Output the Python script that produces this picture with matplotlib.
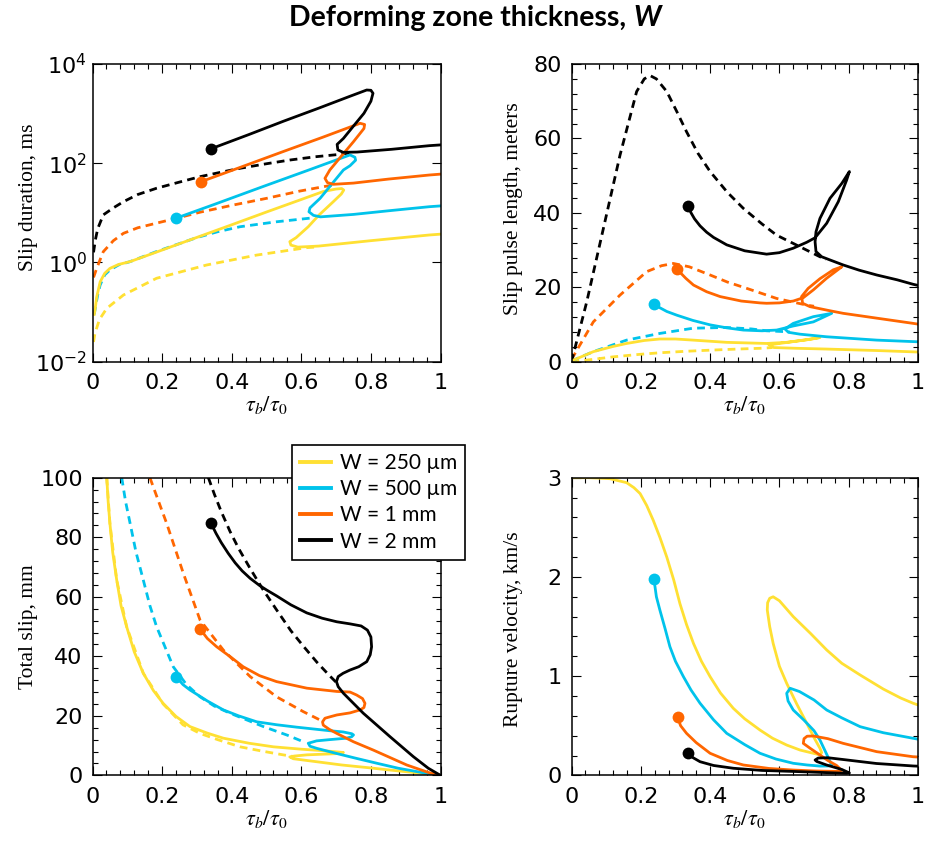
import matplotlib
matplotlib.use("Agg")
import matplotlib.pyplot as plt
from matplotlib.ticker import MultipleLocator, FuncFormatter, NullLocator, FixedLocator

# 顏色 (四種 W)
C_250 = "#FFE033"
C_500 = "#00C3EB"
C_1MM = "#FF6600"
C_2MM = "#000000"

W_LABELS = ["W = 250 \u00b5m", "W = 500 \u00b5m", "W = 1 mm", "W = 2 mm"]

# ---------------- Slip duration (ms), log y ----------------
dur_2mm_x = [0.340, 0.45, 0.55, 0.65, 0.74, 0.788, 0.800, 0.806, 0.800, 0.780, 0.750, 0.721, 0.703,
             0.705, 0.720, 0.760, 0.860, 0.968, 1.0]
dur_2mm_y = [195, 380, 708, 1288, 2239, 2992, 2951, 2570, 1778, 1014, 562, 316, 240,
             186, 166, 168, 191, 226, 234]
dur_2mm_ref_x = [0.003, 0.008, 0.015, 0.031, 0.06, 0.089, 0.13, 0.184, 0.25, 0.309, 0.37, 0.424,
                 0.50, 0.567, 0.64, 0.711, 0.74]
dur_2mm_ref_y = [1.6, 2.8, 4.8, 9.1, 12.6, 16.8, 23.4, 31.3, 41.7, 53.6, 66.1, 79.1,
                 97.7, 116, 135, 151, 162]

dur_1mm_x = [0.312, 0.42, 0.55, 0.66, 0.769, 0.782, 0.780, 0.750, 0.710, 0.682, 0.668, 0.675,
             0.692, 0.750, 0.850, 0.968, 1.0]
dur_1mm_y = [42.5, 80.4, 174, 331, 638, 603, 501, 272, 126, 73.1, 49.7, 40.7,
             37.6, 39.8, 47.9, 57.9, 60.3]
dur_1mm_ref_x = [0.003, 0.012, 0.031, 0.06, 0.089, 0.13, 0.184, 0.242, 0.309, 0.405, 0.50, 0.596,
                 0.663, 0.69]
dur_1mm_ref_y = [0.50, 0.76, 1.65, 2.75, 3.87, 5.0, 6.2, 7.8, 10.3, 14.4, 19.6, 27.5, 33.6, 36.3]

dur_500_x = [0.240, 0.35, 0.49, 0.62, 0.74, 0.754, 0.756, 0.740, 0.721, 0.690, 0.654, 0.625,
             0.622, 0.635, 0.655, 0.750, 0.850, 0.968, 1.0]
dur_500_y = [7.8, 14.8, 33.9, 72.4, 147, 132, 115, 89.1, 73.1, 39.8, 19.6, 12.6,
             10.5, 8.9, 8.3, 9.3, 11.0, 13.3, 13.8]
dur_500_ref_x = [0.005, 0.008, 0.015, 0.022, 0.035, 0.05, 0.075, 0.108, 0.184, 0.299, 0.36,
                 0.424, 0.529, 0.634]
dur_500_ref_y = [0.09, 0.12, 0.224, 0.352, 0.562, 0.705, 0.891, 1.04, 1.66, 3.16, 4.17,
                 5.25, 6.61, 7.94]

dur_250_x = [0.005, 0.008, 0.012, 0.022, 0.035, 0.05, 0.075, 0.108, 0.2, 0.3, 0.4, 0.5, 0.6,
             0.663, 0.70, 0.716, 0.722, 0.715, 0.692, 0.65, 0.62, 0.585, 0.567, 0.570, 0.59,
             0.65, 0.80, 0.968, 1.0]
dur_250_y = [0.09, 0.12, 0.2, 0.407, 0.603, 0.759, 0.912, 1.04, 1.78, 3.2, 5.75, 10.4, 18.6,
             26.9, 30.2, 30.9, 28.8, 24.0, 16.8, 8.91, 5.25, 3.16, 2.63, 2.24, 2.04,
             2.14, 2.75, 3.58, 3.72]
dur_250_ref_x = [0.003, 0.007, 0.02, 0.041, 0.089, 0.184, 0.328, 0.472, 0.616, 0.64]
dur_250_ref_y = [0.025, 0.037, 0.071, 0.119, 0.221, 0.48, 0.889, 1.41, 1.99, 2.04]

# ---------------- Slip pulse length (m) ----------------
len_2mm_x = [0.337, 0.345, 0.355, 0.371, 0.39, 0.41, 0.448, 0.50, 0.563, 0.60, 0.64, 0.679, 0.703,
             0.7365, 0.770, 0.794, 0.802, 0.780, 0.746, 0.717, 0.7056, 0.703, 0.7056, 0.722,
             0.75, 0.784, 0.83, 0.881, 0.94, 0.986, 1.0]
len_2mm_y = [41.8, 40.0, 38.4, 36.5, 34.8, 33.4, 31.4, 29.8, 28.9, 29.3, 30.5, 32.1, 33.3,
             37.2, 43.0, 48.8, 51.1, 47.9, 43.9, 38.5, 34.9, 32.2, 29.6, 28.2,
             27.2, 26.0, 24.6, 23.3, 22.0, 20.8, 20.5]
len_2mm_ref_x = [0.0, 0.044, 0.092, 0.14, 0.188, 0.21, 0.2266, 0.245, 0.275, 0.304, 0.332, 0.365,
                 0.40, 0.45, 0.496, 0.55, 0.592, 0.659, 0.717, 0.735]
len_2mm_ref_y = [0.0, 16.1, 35.8, 55.5, 72.6, 76.0, 76.9, 76.0, 72.6, 67.2, 61.8, 56.0,
                 51.1, 45.5, 41.2, 37.0, 34.0, 30.9, 28.2, 27.5]

len_1mm_x = [0.305, 0.33, 0.352, 0.39, 0.429, 0.49, 0.544, 0.563, 0.60, 0.64, 0.669, 0.698,
             0.736, 0.78, 0.7556, 0.717, 0.683, 0.664, 0.667, 0.688, 0.74, 0.784, 0.881,
             0.986, 1.0]
len_1mm_y = [24.8, 22.4, 20.6, 18.8, 17.5, 16.3, 15.8, 15.7, 15.8, 16.3, 17.2, 19.3,
             22.4, 25.5, 24.7, 22.3, 19.7, 17.5, 15.7, 14.8, 13.8, 13.0, 11.7,
             10.3, 10.1]
len_1mm_ref_x = [0.0, 0.063, 0.14, 0.217, 0.26, 0.294, 0.34, 0.40, 0.45, 0.506, 0.592, 0.679, 0.70]
len_1mm_ref_y = [0.6, 10.7, 17.9, 24.2, 25.8, 26.4, 25.5, 23.3, 21.4, 19.7, 17.0, 15.2, 14.9]

len_500_x = [0.238, 0.255, 0.275, 0.304, 0.35, 0.40, 0.448, 0.496, 0.55, 0.592, 0.64, 0.698,
             0.751, 0.698, 0.64, 0.616, 0.626, 0.659, 0.736, 0.881, 0.986, 1.0]
len_500_y = [15.4, 14.5, 13.5, 12.5, 11.1, 9.9, 9.1, 8.5, 8.3, 8.5, 9.6, 10.7,
             13.0, 12.1, 10.3, 8.8, 7.9, 7.4, 6.7, 5.8, 5.4, 5.35]
len_500_ref_x = [0.0, 0.063, 0.159, 0.255, 0.351, 0.448, 0.52, 0.563, 0.611, 0.63]
len_500_ref_y = [0.2, 2.7, 5.8, 7.6, 9.0, 9.2, 8.8, 8.3, 8.1, 8.0]

len_250_x = [0.0, 0.063, 0.12, 0.159, 0.21, 0.255, 0.30, 0.351, 0.448, 0.563, 0.62, 0.68, 0.717,
             0.70, 0.64, 0.60, 0.57, 0.584, 0.65, 0.736, 0.881, 1.0]
len_250_y = [0.2, 2.7, 4.1, 4.9, 5.7, 6.1, 6.1, 5.8, 5.2, 4.9, 5.2, 5.9, 6.5,
             6.2, 5.4, 4.9, 4.5, 3.8, 3.6, 3.4, 3.0, 2.6]
len_250_ref_x = [0.0, 0.03, 0.06, 0.12, 0.2, 0.255, 0.33, 0.40, 0.48, 0.544, 0.58]
len_250_ref_y = [0.0, 0.3, 0.6, 1.3, 2.0, 2.4, 2.8, 3.1, 3.4, 3.6, 3.8]

# ---------------- Total slip (mm) ----------------
slip_2mm_x = [0.3405, 0.355, 0.37, 0.39, 0.41, 0.43, 0.453, 0.48, 0.5, 0.529, 0.57, 0.6155, 0.66,
              0.702, 0.74, 0.772, 0.79, 0.8, 0.802, 0.798, 0.788, 0.765, 0.74, 0.72, 0.706,
              0.701, 0.706, 0.721, 0.778, 0.855, 0.922, 0.965, 1.0]
slip_2mm_y = [84.7, 81.3, 78.2, 74.6, 71.4, 68.7, 66.2, 63.8, 62.3, 60.3, 57.3, 54.6, 52.8,
              51.6, 50.9, 50.2, 48.8, 46.5, 43.2, 40.5, 38.2, 36.5, 35.4, 34.3, 33.2,
              31.5, 29.8, 27.6, 20.9, 13.0, 6.3, 2.4, 0.0]
slip_2mm_ref_x = [0.333, 0.35, 0.37, 0.395, 0.42, 0.453, 0.49, 0.529, 0.57, 0.606, 0.645,
                  0.682, 0.706]
slip_2mm_ref_y = [100, 94.5, 88.6, 82.0, 76.2, 69.5, 62.4, 55.6, 48.6, 43.4, 38.0,
                  33.4, 30.6]

slip_1mm_x = [0.309, 0.33, 0.357, 0.4, 0.433, 0.48, 0.529, 0.616, 0.702, 0.74, 0.759, 0.776,
              0.783, 0.78, 0.769, 0.74, 0.702, 0.68, 0.668, 0.661, 0.663, 0.68, 0.702, 0.75,
              0.807, 0.903, 0.965, 1.0]
slip_1mm_y = [49.2, 46.0, 43.2, 39.5, 36.5, 33.5, 31.5, 29.3, 28.2, 28.0, 27.0, 25.8,
              24.2, 22.8, 22.0, 21.0, 20.3, 19.6, 19.2, 18.0, 16.9, 15.5, 14.1, 11.3,
              8.5, 3.5, 1.0, 0.0]
slip_1mm_ref_x = [0.165, 0.19, 0.213, 0.261, 0.309, 0.376, 0.453, 0.529, 0.606, 0.654]
slip_1mm_ref_y = [100, 92, 84.7, 67.9, 52.2, 42.1, 33.2, 26.4, 21.4, 18.6]

slip_500_x = [0.24, 0.26, 0.28, 0.33, 0.376, 0.42, 0.472, 0.53, 0.587, 0.682, 0.72, 0.745,
              0.75, 0.745, 0.73, 0.68, 0.644, 0.62, 0.625, 0.644, 0.7, 0.759, 0.82, 0.879,
              0.95, 1.0]
slip_500_y = [33.2, 30.5, 28.7, 25.0, 22.0, 20.0, 18.0, 17.0, 16.2, 15.0, 14.6, 14.0,
              13.6, 13.0, 12.5, 12.0, 11.6, 10.8, 9.8, 9.1, 7.4, 5.7, 4.0, 2.4,
              0.9, 0.0]
slip_500_ref_x = [0.084, 0.095, 0.108, 0.125, 0.146, 0.165, 0.184, 0.232, 0.27, 0.309, 0.35,
                  0.395, 0.491, 0.56, 0.606]
slip_500_ref_y = [100, 92, 84.7, 75, 65.6, 57, 50.0, 36.5, 30.5, 26.4, 23.3,
                  20.9, 16.4, 13.5, 11.3]

slip_250_x = [0.041, 0.045, 0.05, 0.058, 0.0695, 0.082, 0.098, 0.12, 0.146, 0.175, 0.203, 0.24,
              0.28, 0.33, 0.376, 0.45, 0.52, 0.6, 0.663, 0.721, 0.70, 0.616, 0.58, 0.567,
              0.577, 0.65, 0.716, 0.8, 0.855, 0.93, 1.0]
slip_250_y = [100, 92, 84.7, 75, 65.7, 57, 50.0, 41.5, 34.3, 28.5, 24.2, 19.8,
              16.4, 14.2, 12.5, 10.8, 9.6, 8.8, 8.3, 7.7, 7.3, 6.9, 6.5, 6.2,
              5.6, 4.5, 3.5, 2.5, 1.8, 0.9, 0.0]
slip_250_ref_x = [0.041, 0.05, 0.0695, 0.098, 0.146, 0.203, 0.26, 0.309, 0.36, 0.424, 0.49,
                  0.548, 0.58]
slip_250_ref_y = [100, 84.7, 65.7, 50.0, 34.3, 24.0, 17.0, 14.1, 12.0, 9.6, 8.1, 6.9, 6.3]

# ---------------- Rupture velocity (km/s) ----------------
vel_2mm_x = [0.337, 0.35, 0.371, 0.41, 0.467, 0.55, 0.64, 0.72, 0.794, 0.802, 0.78, 0.736,
             0.708, 0.703, 0.712, 0.74, 0.784, 0.88, 0.986, 1.0]
vel_2mm_y = [0.223, 0.18, 0.138, 0.1, 0.072, 0.05, 0.04, 0.03, 0.021, 0.025, 0.06, 0.105,
             0.14, 0.155, 0.175, 0.178, 0.16, 0.12, 0.095, 0.093]

vel_1mm_x = [0.306, 0.315, 0.332, 0.36, 0.40, 0.45, 0.496, 0.57, 0.64, 0.7, 0.765, 0.78,
             0.765, 0.74, 0.717, 0.69, 0.669, 0.671, 0.68, 0.698, 0.74, 0.784, 0.881, 0.986, 1.0]
vel_1mm_y = [0.585, 0.5, 0.424, 0.33, 0.223, 0.15, 0.105, 0.07, 0.054, 0.045, 0.04, 0.05,
             0.1, 0.15, 0.206, 0.27, 0.323, 0.37, 0.395, 0.397, 0.37, 0.323, 0.239, 0.188, 0.185]

vel_500_x = [0.238, 0.245, 0.255, 0.27, 0.284, 0.3, 0.323, 0.345, 0.371, 0.41, 0.448, 0.5,
             0.544, 0.59, 0.64, 0.68, 0.717, 0.74, 0.751, 0.745, 0.717, 0.7, 0.67, 0.64,
             0.625, 0.621, 0.631, 0.658, 0.7, 0.7365, 0.78, 0.833, 0.9, 0.986, 1.0]
vel_500_y = [1.976, 1.80, 1.667, 1.48, 1.297, 1.15, 0.995, 0.86, 0.727, 0.56, 0.424, 0.31,
             0.223, 0.165, 0.122, 0.105, 0.094, 0.095, 0.1, 0.15, 0.357, 0.45, 0.56, 0.659,
             0.75, 0.827, 0.878, 0.845, 0.76, 0.659, 0.58, 0.491, 0.43, 0.374, 0.365]

vel_250_x = [0.0, 0.05, 0.111, 0.159, 0.18, 0.198, 0.217, 0.236, 0.255, 0.275, 0.295, 0.313,
             0.332, 0.352, 0.375, 0.40, 0.43, 0.467, 0.5, 0.544, 0.58, 0.621, 0.66, 0.698,
             0.717, 0.722, 0.717, 0.7, 0.679, 0.65, 0.621, 0.6, 0.582, 0.572, 0.565, 0.566,
             0.572, 0.582, 0.6, 0.64, 0.69, 0.7365, 0.78, 0.833, 0.9, 0.95, 0.986, 1.0]
vel_250_y = [3.0, 3.0, 2.99, 2.95, 2.9, 2.84, 2.72, 2.57, 2.40, 2.20, 1.97, 1.73,
             1.52, 1.33, 1.15, 0.995, 0.83, 0.676, 0.57, 0.457, 0.375, 0.306, 0.255, 0.223,
             0.206, 0.23, 0.273, 0.38, 0.525, 0.72, 0.928, 1.1, 1.33, 1.5, 1.667, 1.74,
             1.785, 1.80, 1.76, 1.60, 1.43, 1.264, 1.13, 1.012, 0.87, 0.78, 0.727, 0.71]


def px_box(left, right, top, bottom, W=927, H=846):
    # 把像素位置換成 figure 比例
    return [left / W, 1 - bottom / H, (right - left) / W, (bottom - top) / H]


def style_axes(ax, ypad=7):
    ax.tick_params(which="both", direction="in", top=True, right=True, width=0.8,
                   labelsize=16)
    ax.tick_params(which="major", length=6.5)
    ax.tick_params(which="minor", length=3.5)
    ax.tick_params(axis="x", pad=8)
    ax.tick_params(axis="y", pad=ypad)
    for s in ax.spines.values():
        s.set_linewidth(1.1)
    ax.set_xlim(0, 1)
    ax.xaxis.set_major_locator(MultipleLocator(0.2))
    ax.xaxis.set_minor_locator(MultipleLocator(0.04))
    ax.xaxis.set_major_formatter(FuncFormatter(lambda v, p: f"{v:g}"))
    ax.set_xlabel(r"$\tau_b/\tau_0$", fontsize=16)
    ax.xaxis.set_label_coords(0.5, -0.11)


def draw_series(ax, series, dashed=True):
    colors = [C_250, C_500, C_1MM, C_2MM]
    handles = []
    if dashed:
        for (sx, sy, rx, ry), c in zip(series, colors):
            ax.plot(rx, ry, color=c, lw=2.0, ls=(0, (2.8, 1.9)), solid_capstyle="butt")
    for (sx, sy, *_), c in zip(series, colors):
        h, = ax.plot(sx, sy, color=c, lw=2.0)
        handles.append(h)
    for (sx, sy, *_), c in zip(series, colors):
        if c == C_250 and sx[0] < 0.05:
            continue  # 黃色那條沒有起點圓點
        ax.plot(sx[0], sy[0], "o", color=c, ms=8.5, mew=0, zorder=5)
    return handles


plt.rcParams["font.family"] = ["DejaVu Sans"]
plt.rcParams["mathtext.fontset"] = "stix"

fig = plt.figure(figsize=(9.27, 8.46), dpi=100)
fig.patch.set_facecolor("white")

# ---- 左上: slip duration ----
ax1 = fig.add_axes(px_box(92.5, 440.5, 64, 361.7))
ax1.set_yscale("log")
draw_series(ax1, [
    (dur_250_x, dur_250_y, dur_250_ref_x, dur_250_ref_y),
    (dur_500_x, dur_500_y, dur_500_ref_x, dur_500_ref_y),
    (dur_1mm_x, dur_1mm_y, dur_1mm_ref_x, dur_1mm_ref_y),
    (dur_2mm_x, dur_2mm_y, dur_2mm_ref_x, dur_2mm_ref_y),
])
style_axes(ax1, ypad=4)
ax1.set_ylim(1e-2, 1e4)
ax1.yaxis.set_major_locator(FixedLocator([1e-2, 1e0, 1e2, 1e4]))
ax1.yaxis.set_minor_locator(NullLocator())
ax1.set_ylabel("Slip duration, ms", family="Liberation Serif", fontsize=15.5)
ax1.yaxis.set_label_coords(-0.156, 0.553)

# ---- 右上: slip pulse length ----
ax2 = fig.add_axes(px_box(571.5, 918, 64, 361.7))
draw_series(ax2, [
    (len_250_x, len_250_y, len_250_ref_x, len_250_ref_y),
    (len_500_x, len_500_y, len_500_ref_x, len_500_ref_y),
    (len_1mm_x, len_1mm_y, len_1mm_ref_x, len_1mm_ref_y),
    (len_2mm_x, len_2mm_y, len_2mm_ref_x, len_2mm_ref_y),
])
style_axes(ax2)
ax2.set_ylim(0, 80)
ax2.yaxis.set_major_locator(MultipleLocator(20))
ax2.yaxis.set_minor_locator(MultipleLocator(4))
ax2.set_ylabel("Slip pulse length, meters", family="Liberation Serif", fontsize=15.5)
ax2.yaxis.set_label_coords(-0.141, 0.515)

# ---- 左下: total slip ----
ax3 = fig.add_axes(px_box(92.5, 440.5, 477.7, 775.4))
handles = draw_series(ax3, [
    (slip_250_x, slip_250_y, slip_250_ref_x, slip_250_ref_y),
    (slip_500_x, slip_500_y, slip_500_ref_x, slip_500_ref_y),
    (slip_1mm_x, slip_1mm_y, slip_1mm_ref_x, slip_1mm_ref_y),
    (slip_2mm_x, slip_2mm_y, slip_2mm_ref_x, slip_2mm_ref_y),
])
style_axes(ax3)
ax3.set_ylim(0, 100)
ax3.yaxis.set_major_locator(MultipleLocator(20))
ax3.yaxis.set_minor_locator(MultipleLocator(4))
ax3.set_ylabel("Total slip, mm", family="Liberation Serif", fontsize=15.5)
ax3.yaxis.set_label_coords(-0.156, 0.5)

leg = ax3.legend(handles, W_LABELS, loc="upper left",
                 bbox_to_anchor=(292.3 / 927, 1 - 445 / 846), bbox_transform=fig.transFigure,
                 borderaxespad=0, fancybox=False, framealpha=1, edgecolor="black",
                 handlelength=1.5, handletextpad=0.4, borderpad=0.38, labelspacing=0.3,
                 prop={"family": "Lato", "size": 15})
leg.get_frame().set_linewidth(1.2)
for h in leg.legend_handles:
    h.set_linewidth(2.8)

# ---- 右下: rupture velocity ----
ax4 = fig.add_axes(px_box(571.5, 918, 477.7, 775.4))
draw_series(ax4, [
    (vel_250_x, vel_250_y),
    (vel_500_x, vel_500_y),
    (vel_1mm_x, vel_1mm_y),
    (vel_2mm_x, vel_2mm_y),
], dashed=False)
style_axes(ax4)
ax4.set_ylim(0, 3)
ax4.yaxis.set_major_locator(MultipleLocator(1))
ax4.yaxis.set_minor_locator(MultipleLocator(0.2))
ax4.set_ylabel("Rupture velocity, km/s", family="Liberation Serif", fontsize=15.5)
ax4.yaxis.set_label_coords(-0.141, 0.49)

# ---- 標題: 一般粗體 + 斜體 W ----
r = fig.canvas.get_renderer()
ty = 1 - 18 / 846
t1 = fig.text(0, ty, "Deforming zone thickness, ", fontsize=20.5, fontweight="bold",
              family="Lato", va="center")
t2 = fig.text(0, ty, "W", fontsize=20.5, fontweight="bold", fontstyle="italic",
              family="Lato", va="center")
w1 = t1.get_window_extent(r).width
w2 = t2.get_window_extent(r).width
x0 = 475 - (w1 + w2) / 2
t1.set_x(x0 / 927)
t2.set_x((x0 + w1) / 927)

fig.savefig("out.png", dpi=100)
plt.close(fig)
